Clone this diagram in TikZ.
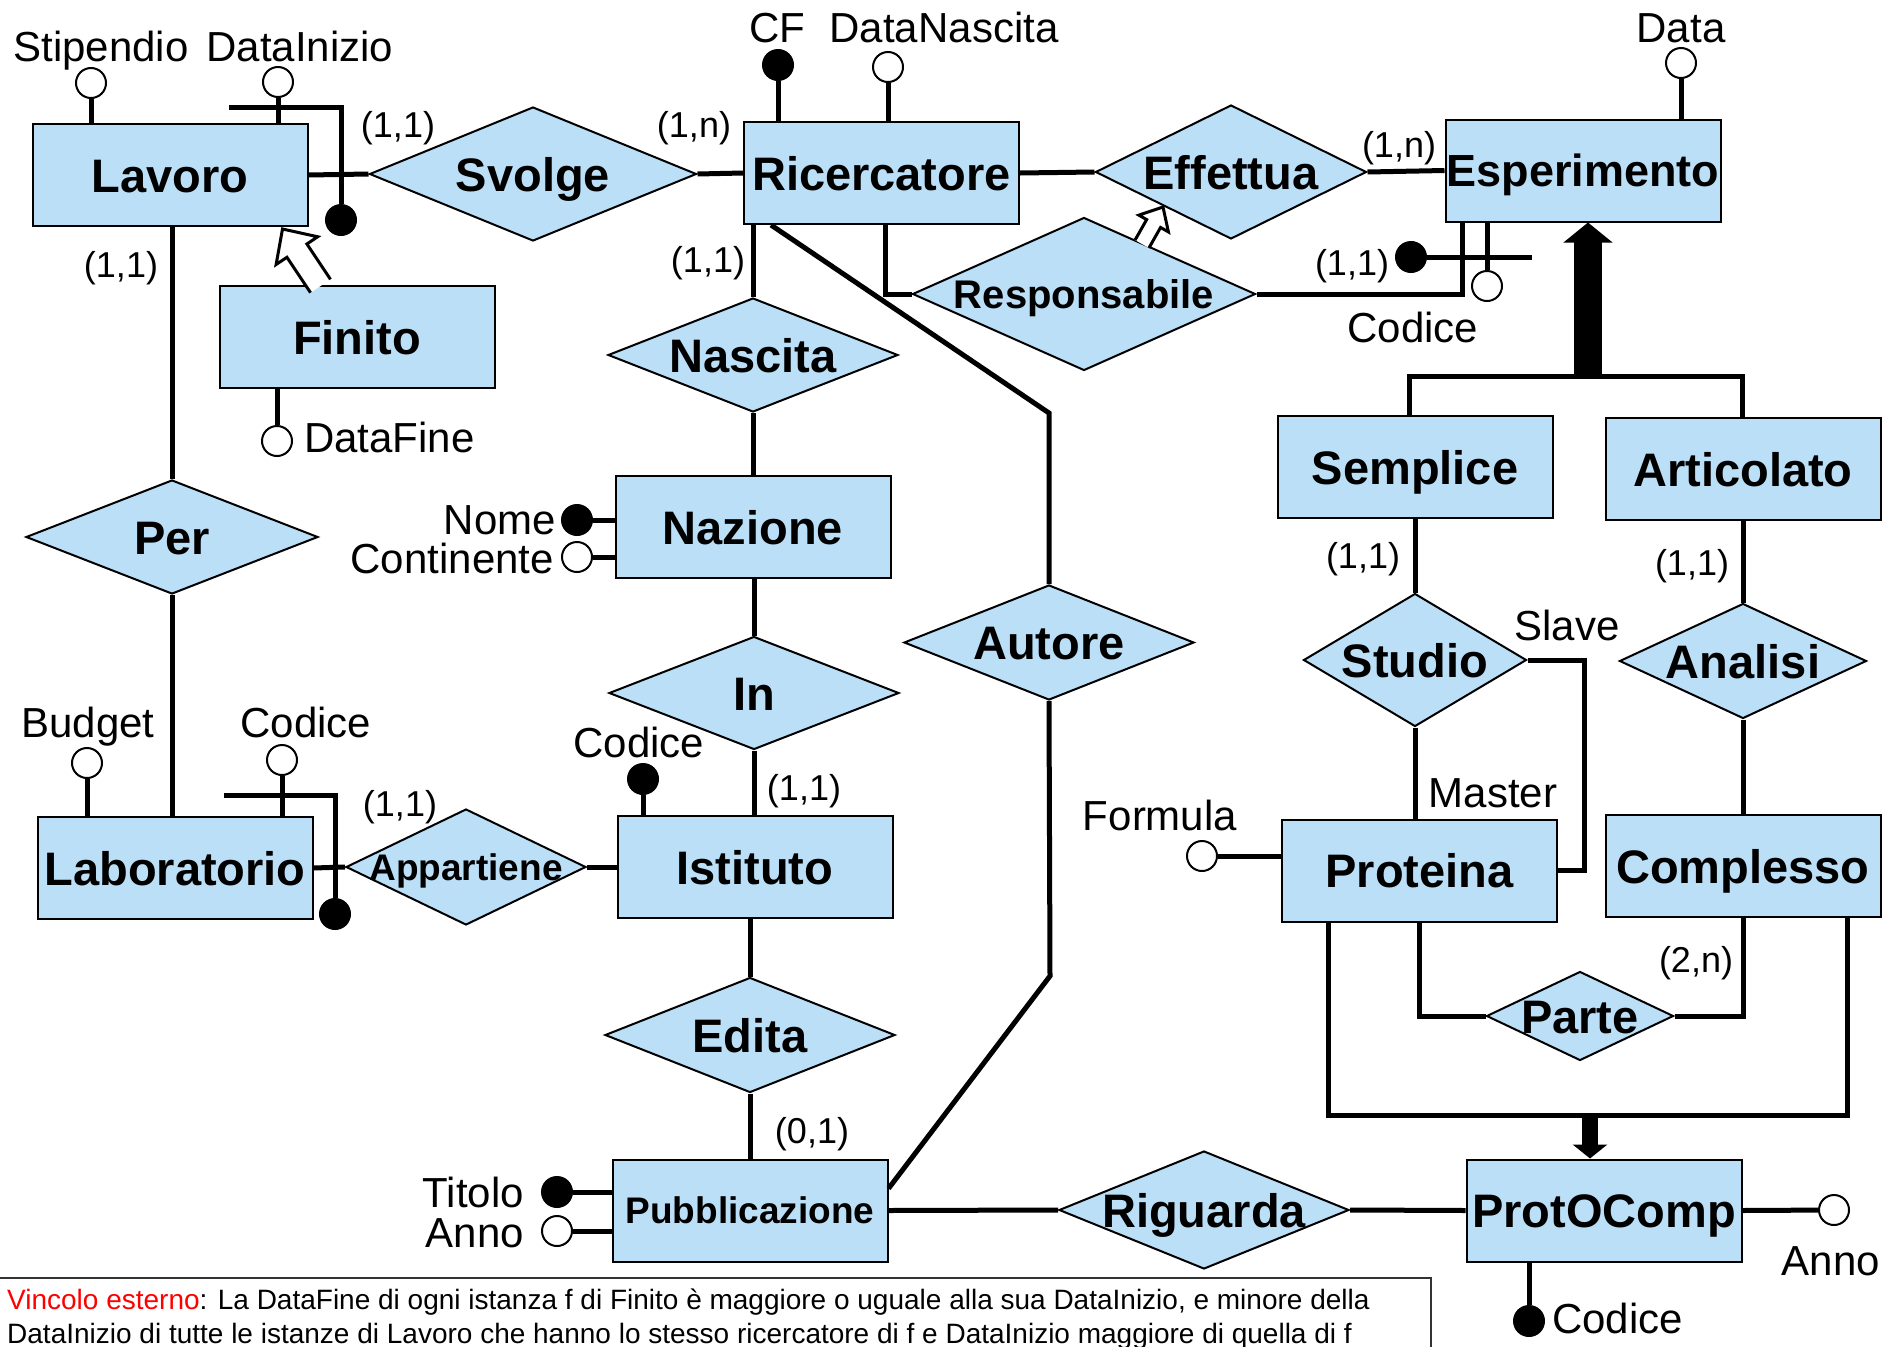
\documentclass[tikz,border=0pt]{standalone}
\usepackage{fontspec}
\setmainfont{Liberation Sans}
\usetikzlibrary{shapes.geometric,arrows.meta,calc}
\definecolor{erfill}{RGB}{187,223,247}
\begin{document}
\begin{tikzpicture}[x=1pt,y=-1pt,
  ent/.style={draw, fill=erfill, line width=2pt, minimum width=275pt, minimum height=102pt, inner sep=0pt, font=\fontsize{47}{47}\selectfont\bfseries, text height=34pt, text depth=0pt},
  rel/.style={diamond, draw, fill=erfill, line width=2pt, inner sep=0pt},
  rtext/.style={font=\fontsize{47}{47}\selectfont\bfseries, inner sep=0pt, text height=34pt, text depth=0pt},
  conn/.style={line width=5pt},
  att/.style={circle, draw, line width=2pt, fill=white, minimum size=30pt, inner sep=0pt},
  key/.style={att, fill=black},
  lab/.style={font=\fontsize{42}{42}\selectfont, inner sep=0pt, anchor=base},
  card/.style={font=\fontsize{36}{36}\selectfont, inner sep=0pt, anchor=base},
  notet/.style={font=\fontsize{28}{28}\selectfont, inner sep=0pt, anchor=base west},
  gen/.style={line width=28pt, -{Triangle[length=20pt,width=48pt]}},
  gentwo/.style={line width=16pt, -{Triangle[length=14pt,width=34pt]}},
  subarrow/.style={fill=white, draw=black, line width=3pt, line join=miter}
]
\useasboundingbox (0,0) rectangle (1883,1347);
\fill[white] (0,0) rectangle (1883,1347);

% entities
\node[ent] (lav) at (170,175) {Lavoro};
\node[ent] (fin) at (357,337) {Finito};
\node[ent] (ric) at (881.5,173) {Ricercatore};
\node[ent, font=\fontsize{45}{45}\selectfont\bfseries, text height=32pt] (esp) at (1583,170.5) {Esperimento};
\node[ent] (naz) at (753,527) {Nazione};
\node[ent] (sem) at (1415,467) {Semplice};
\node[ent] (art) at (1743,469) {Articolato};
\node[ent] (lab) at (175,868) {Laboratorio};
\node[ent] (ist) at (755,867) {Istituto};
\node[ent] (pro) at (1419.5,870.5) {Proteina};
\node[ent] (com) at (1743,866) {Complesso};
\node[ent, font=\fontsize{37}{37}\selectfont\bfseries, text height=26.5pt] (pub) at (750,1210.5) {Pubblicazione};
\node[ent] (poc) at (1604,1210.5) {ProtOComp};

% relationships
\node[rel, minimum width=327pt, minimum height=134pt] (svo) at (533,174) {};
\node[rel, minimum width=271pt, minimum height=134pt] (eff) at (1231,172) {};
\node[rel, minimum width=343pt, minimum height=153pt] (resp) at (1084,294) {};
\node[rel, minimum width=290pt, minimum height=114pt] (nas) at (753,355) {};
\node[rel, minimum width=292pt, minimum height=114pt] (per) at (172,537) {};
\node[rel, minimum width=290pt, minimum height=113pt] (inr) at (754,693) {};
\node[rel, minimum width=290pt, minimum height=115pt] (aut) at (1049,642.5) {};
\node[rel, minimum width=240pt, minimum height=116pt] (app) at (466,867) {};
\node[rel, minimum width=290pt, minimum height=115pt] (edi) at (750,1035) {};
\node[rel, minimum width=223pt, minimum height=133pt] (stu) at (1415,660) {};
\node[rel, minimum width=247pt, minimum height=115pt] (ana) at (1743,661) {};
\node[rel, minimum width=187pt, minimum height=89pt] (par) at (1580,1016) {};
\node[rel, minimum width=290pt, minimum height=118pt] (rig) at (1204,1210) {};

\node[rtext] (svo-t) at (svo) {Svolge};
\node[rtext] (eff-t) at (eff) {Effettua};
\node[rtext, font=\fontsize{40}{40}\selectfont\bfseries, text height=29pt] (resp-t) at (resp) {Responsabile};
\node[rtext] (nas-t) at (nas) {Nascita};
\node[rtext] (per-t) at (per) {Per};
\node[rtext] (inr-t) at (inr) {In};
\node[rtext] (aut-t) at (aut) {Autore};
\node[rtext, font=\fontsize{37}{37}\selectfont\bfseries, text height=26.5pt] (app-t) at (app) {Appartiene};
\node[rtext] (edi-t) at (edi) {Edita};
\node[rtext] (stu-t) at (stu) {Studio};
\node[rtext] (ana-t) at (ana) {Analisi};
\node[rtext] (par-t) at (par) {Parte};
\node[rtext] (rig-t) at (rig) {Riguarda};

% attributes
\node[att] (stip) at (91,83) {};
\node[att] (dini) at (278,82) {};
\node[key] (lavkey) at (341,220) {};
\coordinate (lavid) at (229,107);
\node[att] (dfin) at (277,441) {};
\node[key] (cf) at (778,65) {};
\node[att] (dnas) at (888,67) {};
\node[att] (data) at (1681,63) {};
\node[key] (espkey) at (1411,257) {};
\coordinate (espidE) at (1532,257);
\node[att] (ecod) at (1487,286) {};
\node[key] (nome) at (577,520) {};
\node[att] (cont) at (577,557) {};
\node[key] (icod) at (643,779) {};
\node[att] (budg) at (87,763) {};
\node[att] (lcod) at (282,760) {};
\node[key] (labkey) at (335,914) {};
\coordinate (labid) at (224,795);
\node[att] (form) at (1202,856) {};
\node[key] (tit) at (557,1192) {};
\node[att] (anno) at (557,1231) {};
\node[att] (panno) at (1834,1210) {};
\node[key] (pcod) at (1529,1321) {};

% attribute links
\draw[conn] (stip) -- (stip |- lav.north);
\draw[conn] (dini) -- (dini |- lav.north);
\draw[conn] (lavid) -| (lavkey);
\draw[conn] (dfin) -- (dfin |- fin.south);
\draw[conn] (cf) -- (cf |- ric.north);
\draw[conn] (dnas) -- (dnas |- ric.north);
\draw[conn] (data) -- (data |- esp.north);
\draw[conn] (espkey) -- (espidE);
\draw[conn] (ecod) -- (ecod |- esp.south);
\draw[conn] (nome) -- (nome -| naz.west);
\draw[conn] (cont) -- (cont -| naz.west);
\draw[conn] (icod) -- (icod |- ist.north);
\draw[conn] (budg) -- (budg |- lab.north);
\draw[conn] (lcod) -- (lcod |- lab.north);
\draw[conn] (labid) -| (labkey);
\draw[conn] (form) -- (form -| pro.west);
\draw[conn] (tit) -- (tit -| pub.west);
\draw[conn] (anno) -- (anno -| pub.west);
\draw[conn] (poc.east) -- (panno);
\draw[conn] (pcod) -- (pcod |- poc.south);

% relationship links
\draw[conn] (lav.east) -- (svo.west);
\draw[conn] (svo.east) -- (ric.west);
\draw[conn] (ric.east) -- (eff.west);
\draw[conn] (eff.east) -- (esp.west);
\draw[conn] (per.north) -- (per.north |- lav.south);
\draw[conn] (per.south) -- (per.south |- lab.north);
\draw[conn] (nas.north) -- (nas.north |- ric.south);
\draw[conn] (nas.south) -- (nas.south |- naz.north);
\draw[conn] (inr.north) -- (inr.north |- naz.south);
\draw[conn] (inr.south) -- (inr.south |- ist.north);
\draw[conn] (edi.north) -- (edi.north |- ist.south);
\draw[conn] (edi.south) -- (edi.south |- pub.north);
\draw[conn] (ist.west) -- (app.east);
\draw[conn] (app.west) -- (lab.east);
\coordinate (autA) at (1049,413);
\coordinate (autB) at (1050,976);
\draw[conn] ($(ric.south west)+(28,0)$) -- (autA) -- (aut.north);
\draw[conn] (aut.south) -- (autB) -- ($(pub.north east)+(0,30)$);
\draw[conn] (resp.west) -| ($(ric.south west)+(142,0)$);
\draw[conn] (resp.east) -| ($(esp.south west)+(18,0)$);
\draw[conn] (pub.east) -- (rig.west);
\draw[conn] (rig.east) -- (poc.west);
\draw[conn] (stu.north) -- (stu.north |- sem.south);
\draw[conn] (stu.south) -- (stu.south |- pro.north);
\draw[conn] (stu.east) -| ($(pro.east)+(26,0)$) -- (pro.east);
\draw[conn] (ana.north) -- (ana.north |- art.south);
\draw[conn] (ana.south) -- (ana.south |- com.north);
\draw[conn] (pro.south) |- (par.west);
\draw[conn] (par.east) -| (com.south);

% subset arrows (outlined block arrows)
\coordinate (fS) at ($(fin.north west)+(102,1)$);
\coordinate (fE) at ($(lav.south west)+(251,2)$);
\coordinate (fH) at ($(fE)!26pt!(fS)$);
\filldraw[subarrow] ($(fS)!12pt!90:(fE)$) -- ($(fH)!12pt!90:(fE)$) -- ($(fH)!25pt!90:(fE)$) -- (fE)
  -- ($(fH)!25pt!-90:(fE)$) -- ($(fH)!12pt!-90:(fE)$) -- ($(fS)!12pt!-90:(fE)$);
\coordinate (rS) at ($(resp.center)+(58,-50)$);
\coordinate (rE) at ($(eff.center)+(-68,35)$);
\coordinate (rH) at ($(rE)!19pt!(rS)$);
\filldraw[subarrow] ($(rS)!8pt!90:(rE)$) -- ($(rH)!8pt!90:(rE)$) -- ($(rH)!17pt!90:(rE)$) -- (rE)
  -- ($(rH)!17pt!-90:(rE)$) -- ($(rH)!8pt!-90:(rE)$) -- ($(rS)!8pt!-90:(rE)$);

% generalizations
\coordinate (gA) at (1409,376);
\coordinate (gB) at (1742,376);
\coordinate (gM) at (1588,376);
\draw[conn] (gA |- sem.north) -- (gA) -- (gB) -- (gB |- art.north);
\draw[gen] (gM) -- (gM |- esp.south);
\coordinate (gC) at (1328,1115);
\coordinate (gD) at (1847,1115);
\coordinate (gE) at (1590,1115);
\draw[conn] (gC |- pro.south) -- (gC) -- (gD) -- (gD |- com.south);
\draw[gentwo] (gE) -- (gE |- poc.north);

% labels
\node[lab] (l-stip) at (101,61) {Stipendio};
\node[lab] (l-dini) at (300,61) {DataInizio};
\node[lab] (l-cf) at (777,42) {CF};
\node[lab] (l-dnas) at (944,42) {DataNascita};
\node[lab] (l-data) at (1681,42) {Data};
\node[lab, anchor=base east] (l-nome) at (556,534) {Nome};
\node[lab, anchor=base east] (l-cont) at (554,573) {Continente};
\node[lab, anchor=base west] (l-dfin) at (304,452) {DataFine};
\node[lab] (l-budg) at (88,737) {Budget};
\node[lab] (l-lcod) at (306,737) {Codice};
\node[lab] (l-icod) at (639,757) {Codice};
\node[lab] (l-form) at (1160,830) {Formula};
\node[lab, anchor=base east] (l-tit) at (524,1207) {Titolo};
\node[lab, anchor=base east] (l-anno) at (524,1247) {Anno};
\node[lab] (l-panno) at (1831,1275) {Anno};
\node[lab, anchor=base west] (l-pcod) at (1552,1333) {Codice};
\node[lab] (l-ecod) at (1413,342) {Codice};
\node[lab] (l-master) at (1493,807) {Master};
\node[lab] (l-slave) at (1567,640) {Slave};

% cardinalities
\node[card] (c1) at (398,137) {(1,1)};
\node[card] (c2) at (694,137) {(1,n)};
\node[card] (c3) at (121,277) {(1,1)};
\node[card] (c4) at (708,272) {(1,1)};
\node[card] (c5) at (1399,157) {(1,n)};
\node[card] (c6) at (1352,275) {(1,1)};
\node[card] (c7) at (804,800) {(1,1)};
\node[card] (c8) at (400,816) {(1,1)};
\node[card] (c9) at (812,1143) {(0,1)};
\node[card] (c10) at (1363,568) {(1,1)};
\node[card] (c11) at (1692,575) {(1,1)};
\node[card] (c12) at (1696,972) {(2,n)};

% note
\node[draw=black!80, line width=2pt, minimum width=1432pt, minimum height=140pt, anchor=north west, inner sep=0pt] (note) at (-2,1277) {};
\node[notet] (n1) at (7,1309) {\textcolor{red}{Vincolo esterno}: La DataFine di ogni istanza f di Finito è maggiore o uguale alla sua DataInizio, e minore della};
\node[notet] (n2) at (7,1343) {DataInizio di tutte le istanze di Lavoro che hanno lo stesso ricercatore di f e DataInizio maggiore di quella di f};
\end{tikzpicture}
\end{document}
